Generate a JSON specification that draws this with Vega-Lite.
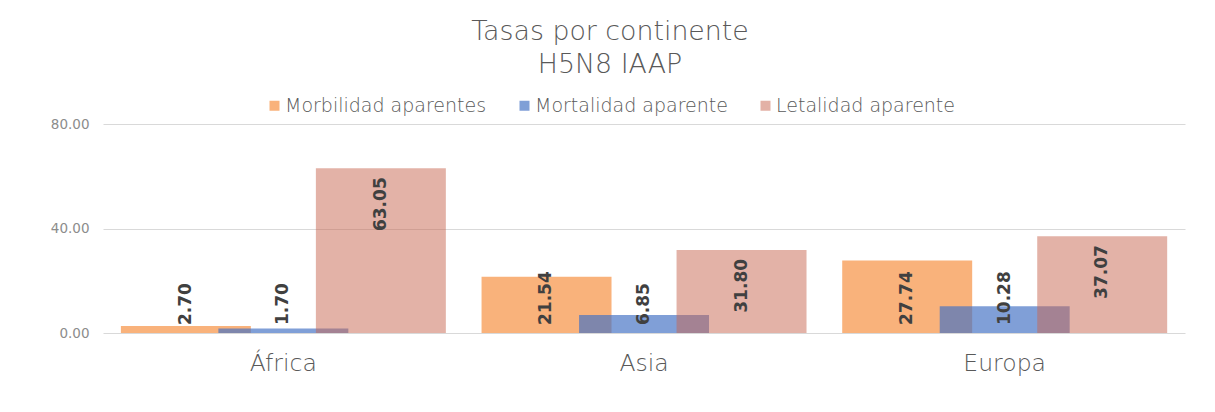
{
  "$schema": "https://vega.github.io/schema/vega-lite/v6.json",
  "width": 1082,
  "height": 209,
  "autosize": {"type": "none"},
  "padding": {"left": 103, "top": 124, "right": 30, "bottom": 79},
  "background": "white",
  "title": {
    "text": ["Tasas por continente", "H5N8 IAAP"],
    "fontSize": 26.8,
    "font": "DejaVu Sans",
    "fontWeight": 300,
    "color": "#595959",
    "lineHeight": 33,
    "anchor": "middle",
    "offset": 17,
    "dx": -34
  },
  "config": {"view": {"stroke": null}, "font": "DejaVu Sans"},
  "data": {
    "values": [
      {"continente": "África", "serie": "Morbilidad aparentes", "valor": 2.70},
      {"continente": "Asia", "serie": "Morbilidad aparentes", "valor": 21.54},
      {"continente": "Europa", "serie": "Morbilidad aparentes", "valor": 27.74},
      {"continente": "África", "serie": "Mortalidad aparente", "valor": 1.70},
      {"continente": "Asia", "serie": "Mortalidad aparente", "valor": 6.85},
      {"continente": "Europa", "serie": "Mortalidad aparente", "valor": 10.28},
      {"continente": "África", "serie": "Letalidad aparente", "valor": 63.05},
      {"continente": "Asia", "serie": "Letalidad aparente", "valor": 31.80},
      {"continente": "Europa", "serie": "Letalidad aparente", "valor": 37.07}
    ]
  },
  "encoding": {
    "x": {
      "field": "continente",
      "type": "nominal",
      "sort": ["África", "Asia", "Europa"],
      "scale": {"paddingInner": 0.189, "paddingOuter": 0.0945},
      "axis": {
        "title": null,
        "labelAngle": 0,
        "ticks": false,
        "domain": false,
        "labelFontSize": 23.5,
        "labelColor": "#595959",
        "labelPadding": 18,
        "labelFont": "DejaVu Sans",
        "labelFontWeight": 300
      }
    },
    "y": {
      "field": "valor",
      "type": "quantitative",
      "scale": {"domain": [0, 80]},
      "axis": {
        "values": [0, 40, 80],
        "format": ".2f",
        "title": null,
        "domain": false,
        "ticks": false,
        "gridColor": "#d9d9d9",
        "labelColor": "#8c8c8c",
        "labelFontSize": 13.5,
        "labelPadding": 14,
        "labelFont": "DejaVu Sans",
        "labelFontWeight": "normal"
      }
    }
  },
  "resolve": {"scale": {"xOffset": "independent"}},
  "layer": [
    {
      "mark": {"type": "bar", "width": {"band": 1.333}},
      "encoding": {
        "xOffset": {
          "field": "serie",
          "type": "nominal",
          "scale": {
            "domain": ["Morbilidad aparentes", "Mortalidad aparente", "Letalidad aparente"],
            "paddingInner": 0, "paddingOuter": 0, "range": [32.5, 325]
          }
        },
        "color": {
          "field": "serie",
          "type": "nominal",
          "scale": {
            "domain": ["Morbilidad aparentes", "Mortalidad aparente", "Letalidad aparente"],
            "range": ["#F9B27B", "#4472C4", "#C8654F"]
          },
          "legend": {
            "orient": "none",
            "legendX": 162,
            "legendY": -28,
            "direction": "horizontal",
            "title": null,
            "symbolType": "square",
            "symbolSize": 100,
            "labelFontSize": 19,
            "labelColor": "#595959",
            "labelFont": "DejaVu Sans",
            "labelFontWeight": 300,
            "labelLimit": 400,
            "columnPadding": 28,
            "labelOffset": 1
          }
        },
        "opacity": {
          "field": "serie",
          "type": "nominal",
          "scale": {
            "type": "ordinal",
            "domain": ["Morbilidad aparentes", "Mortalidad aparente", "Letalidad aparente"],
            "range": [1, 0.68, 0.5]
          }
        }
      }
    },
    {
      "transform": [{"filter": "datum.valor < 30"}],
      "mark": {
        "type": "text",
        "angle": 270,
        "align": "left",
        "baseline": "middle",
        "dx": 8,
        "font": "DejaVu Sans",
        "fontWeight": "bold",
        "fontSize": 17,
        "color": "#404040"
      },
      "encoding": {
        "xOffset": {
          "field": "serie",
          "type": "nominal",
          "scale": {
            "type": "point",
            "padding": 0.5,
            "domain": ["Morbilidad aparentes", "Mortalidad aparente", "Letalidad aparente"]
          }
        },
        "y": {"datum": 0},
        "text": {"field": "valor", "type": "quantitative", "format": ".2f"}
      }
    },
    {
      "transform": [{"filter": "datum.valor >= 30"}],
      "mark": {
        "type": "text",
        "angle": 270,
        "align": "right",
        "baseline": "middle",
        "dx": -9,
        "font": "DejaVu Sans",
        "fontWeight": "bold",
        "fontSize": 17,
        "color": "#404040"
      },
      "encoding": {
        "xOffset": {
          "field": "serie",
          "type": "nominal",
          "scale": {
            "type": "point",
            "padding": 0.5,
            "domain": ["Morbilidad aparentes", "Mortalidad aparente", "Letalidad aparente"]
          }
        },
        "text": {"field": "valor", "type": "quantitative", "format": ".2f"}
      }
    }
  ]
}
